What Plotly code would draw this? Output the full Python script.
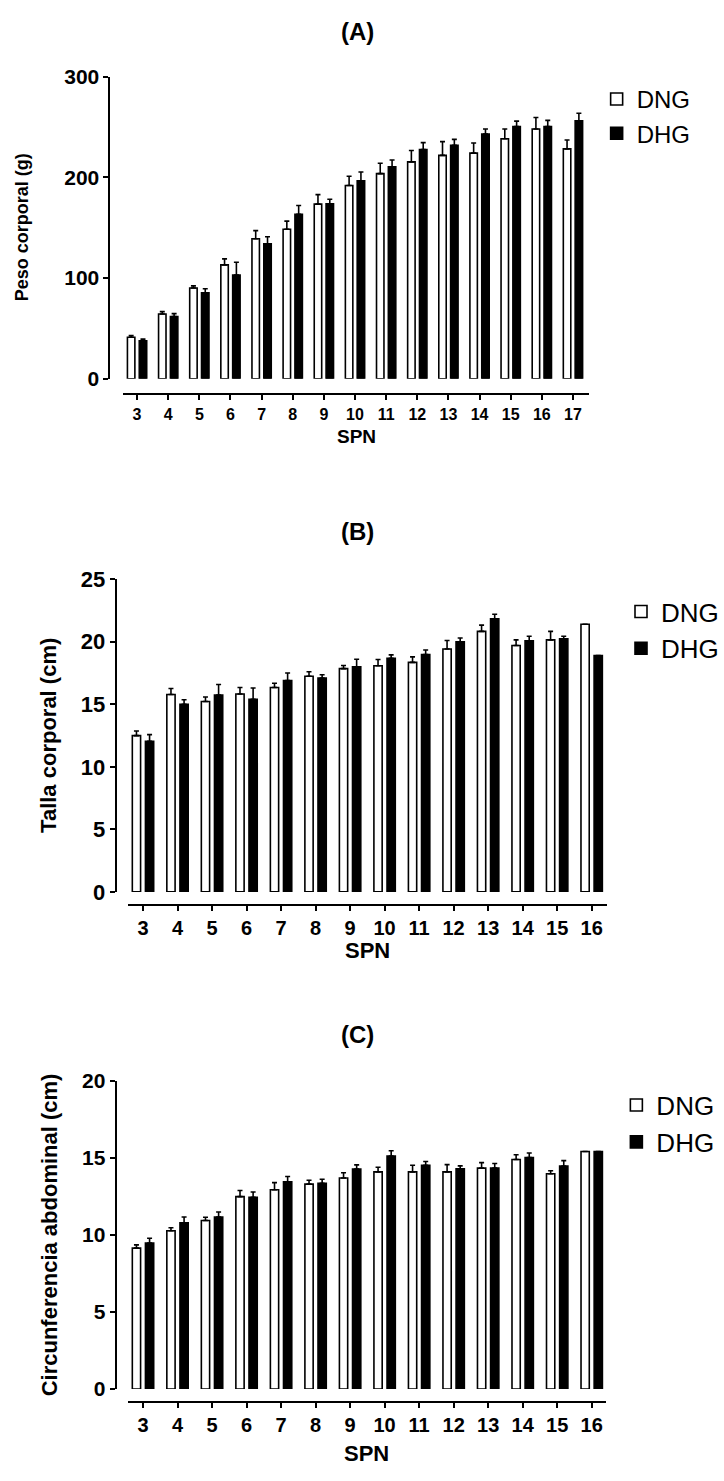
import plotly.graph_objects as go

W, H = 724, 1481

# ---------------- data ----------------
spn_a = [3, 4, 5, 6, 7, 8, 9, 10, 11, 12, 13, 14, 15, 16, 17]
dng_a = [41.2, 64.3, 90.0, 113.0, 139.0, 148.4, 173.4, 191.9, 203.6, 215.3, 221.8, 224.0, 238.3, 248.0, 228.2]
dng_a_err = [1.7, 2.3, 2.2, 6.0, 8.0, 8.1, 9.4, 9.1, 10.4, 11.3, 13.6, 10.0, 9.7, 11.4, 8.8]
dhg_a = [37.7, 61.7, 85.4, 103.0, 134.0, 163.3, 173.7, 196.4, 210.4, 227.6, 231.8, 242.9, 250.3, 250.3, 256.2]
dhg_a_err = [1.6, 2.9, 3.9, 12.6, 7.0, 8.7, 4.5, 8.8, 6.8, 6.8, 5.9, 5.1, 5.5, 6.2, 7.4]

spn_b = [3, 4, 5, 6, 7, 8, 9, 10, 11, 12, 13, 14, 15, 16]
dng_b = [12.5, 15.78, 15.22, 15.83, 16.35, 17.24, 17.85, 18.08, 18.35, 19.42, 20.83, 19.7, 20.15, 21.4]
dng_b_err = [0.37, 0.49, 0.37, 0.52, 0.34, 0.36, 0.25, 0.5, 0.44, 0.68, 0.5, 0.45, 0.68, 0]
dhg_b = [12.05, 15.0, 15.75, 15.41, 16.9, 17.1, 18.0, 18.68, 18.97, 20.0, 21.83, 20.07, 20.23, 18.9]
dhg_b_err = [0.53, 0.36, 0.84, 0.89, 0.6, 0.27, 0.6, 0.27, 0.37, 0.3, 0.37, 0.37, 0.21, 0]

spn_c = [3, 4, 5, 6, 7, 8, 9, 10, 11, 12, 13, 14, 15, 16]
dng_c = [9.15, 10.28, 10.94, 12.49, 12.94, 13.3, 13.7, 14.1, 14.1, 14.1, 14.34, 14.9, 13.98, 15.42]
dng_c_err = [0.21, 0.19, 0.21, 0.40, 0.46, 0.25, 0.34, 0.30, 0.43, 0.47, 0.36, 0.31, 0.19, 0]
dhg_c = [9.47, 10.79, 11.17, 12.45, 13.45, 13.36, 14.28, 15.12, 14.53, 14.3, 14.34, 15.02, 14.47, 15.42]
dhg_c_err = [0.32, 0.38, 0.32, 0.34, 0.35, 0.26, 0.27, 0.35, 0.24, 0.19, 0.30, 0.30, 0.36, 0]

group_names = ["DNG", "DHG"]
panel_titles = ["(A)", "(B)", "(C)"]
y_titles = ["Peso corporal (g)", "Talla corporal (cm)", "Circunferencia abdominal (cm)"]
x_title = "SPN"

FONT = "Liberation Sans, Arial, sans-serif"


def px_x(p):
    return p / W


def px_y(p):
    return 1 - p / H


panels = [
    dict(x=spn_a, d1=dng_a, e1=dng_a_err, d2=dhg_a, e2=dhg_a_err,
         xdom=(125, 597), xr=(2.557, 17.507), ydom=(373, 65.7), yr=(0, 300), ytick=100,
         ypos=111, xpos=389, xtf=16, ytf=21, leg=(605, 66), legf=24,
         title_y=20, ytitle_x=22, ytitle_f=18, xtitle_y=432, xtitle_f=19),
    dict(x=spn_b, d1=dng_b, e1=dng_b_err, d2=dhg_b, e2=dhg_b_err,
         xdom=(130, 615), xr=(2.571, 16.43), ydom=(895, 577), yr=(0, 25), ytick=5,
         ypos=117.3, xpos=908, xtf=20, ytf=22, leg=(630, 586), legf=26,
         title_y=528, ytitle_x=49, ytitle_f=22, xtitle_y=955, xtitle_f=22),
    dict(x=spn_c, d1=dng_c, e1=dng_c_err, d2=dhg_c, e2=dhg_c_err,
         xdom=(130, 614), xr=(2.571, 16.4), ydom=(1400.7, 1087.3), yr=(0, 20), ytick=5,
         ypos=117.3, xpos=1414, xtf=20, ytf=21, leg=(625, 1088), legf=26,
         title_y=1040, ytitle_x=50, ytitle_f=22, xtitle_y=1466, xtitle_f=22),
]

fig = go.Figure()
annotations = []
layout = {}

for i, p in enumerate(panels):
    n = "" if i == 0 else str(i + 1)
    xa, ya = "x" + n, "y" + n
    legname = "legend" + n
    for name, vals, errs, fill in [(group_names[0], p["d1"], p["e1"], "white"),
                                   (group_names[1], p["d2"], p["e2"], "black")]:
        fig.add_trace(go.Bar(
            x=p["x"], y=vals, name=name, xaxis=xa, yaxis=ya, legend=legname,
            marker=dict(color=fill, line=dict(color="black", width=1.6)),
            error_y=dict(type="data", array=errs, arrayminus=[0] * len(errs),
                         symmetric=False, color="black", thickness=1.6, width=2.5),
        ))
    layout["xaxis" + n] = dict(
        domain=[px_x(p["xdom"][0]), px_x(p["xdom"][1])], range=list(p["xr"]),
        anchor="free", position=px_y(p["xpos"]),
        tickmode="array", tickvals=p["x"], ticktext=[str(v) for v in p["x"]],
        showline=True, linecolor="black", linewidth=2,
        ticks="outside", ticklen=5, tickwidth=2, tickcolor="black",
        tickfont=dict(family=FONT, size=p["xtf"], color="black", weight="bold"),
        showgrid=False, zeroline=False, fixedrange=True,
    )
    layout["yaxis" + n] = dict(
        domain=[px_y(p["ydom"][0]), px_y(p["ydom"][1])], range=list(p["yr"]),
        anchor="free", position=px_x(p["ypos"]),
        tickmode="linear", tick0=0, dtick=p["ytick"],
        showline=True, linecolor="black", linewidth=2,
        ticks="outside", ticklen=5, tickwidth=2, tickcolor="black",
        tickfont=dict(family=FONT, size=p["ytf"], color="black", weight="bold"),
        showgrid=False, zeroline=False, fixedrange=True,
    )
    layout[legname] = dict(
        x=px_x(p["leg"][0]), y=px_y(p["leg"][1]), xanchor="left", yanchor="top",
        font=dict(family=FONT, size=p["legf"], color="black"),
        bgcolor="rgba(0,0,0,0)", itemwidth=30, tracegroupgap=0,
    )
    annotations.append(dict(
        text=panel_titles[i], x=0.5, y=px_y(p["title_y"]), xref="paper", yref="paper",
        showarrow=False, xanchor="center", yanchor="middle",
        font=dict(family=FONT, size=24, color="black", weight="bold"),
    ))
    annotations.append(dict(
        text=y_titles[i], x=px_x(p["ytitle_x"]),
        y=(px_y(p["ydom"][0]) + px_y(p["ydom"][1])) / 2, xref="paper", yref="paper",
        showarrow=False, xanchor="center", yanchor="middle", textangle=-90,
        font=dict(family=FONT, size=p["ytitle_f"], color="black", weight="bold"),
    ))
    annotations.append(dict(
        text=x_title, x=(px_x(p["xdom"][0]) + px_x(p["xdom"][1])) / 2,
        y=px_y(p["xtitle_y"]), xref="paper", yref="paper",
        showarrow=False, xanchor="center", yanchor="middle",
        font=dict(family=FONT, size=p["xtitle_f"], color="black", weight="bold"),
    ))

fig.update_layout(
    width=W, height=H, margin=dict(l=0, r=0, t=0, b=0),
    paper_bgcolor="white", plot_bgcolor="white",
    barmode="group", bargap=0.24, bargroupgap=0.37,
    showlegend=True, annotations=annotations,
    font=dict(family=FONT, color="black"),
    **layout,
)

fig.write_html("out.html")
